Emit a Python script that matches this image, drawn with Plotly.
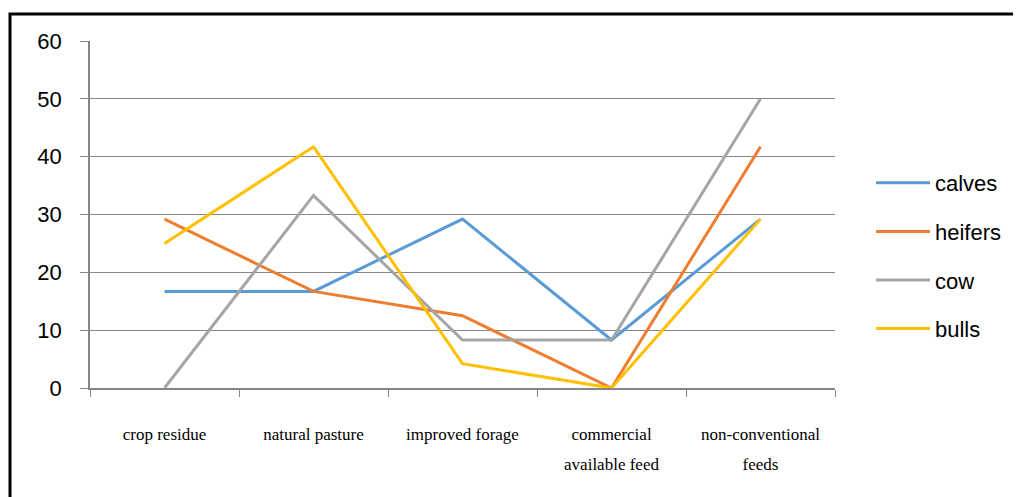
import plotly.graph_objects as go

categories = ["crop residue", "natural pasture", "improved forage",
              "commercial<br>available feed", "non-conventional<br>feeds"]
calves = [16.7, 16.7, 29.2, 8.3, 29.2]
heifers = [29.2, 16.7, 12.5, 0.0, 41.7]
cow = [0.0, 33.3, 8.3, 8.3, 50.0]
bulls = [25.0, 41.7, 4.2, 0.0, 29.2]
y_ticks = [0, 10, 20, 30, 40, 50, 60]

series = [("calves", calves, "#5B9BD5"),
          ("heifers", heifers, "#ED7D31"),
          ("cow", cow, "#A5A5A5"),
          ("bulls", bulls, "#FFC000")]

first_lines = [c.split("<br>")[0] for c in categories]
second_lines = [c.split("<br>")[1] if "<br>" in c else "" for c in categories]

fig = go.Figure()
for name, vals, color in series:
    fig.add_trace(go.Scatter(x=categories, y=vals, mode="lines", name=name,
                             legendgroup=name,
                             line=dict(color=color, width=3)))
# helper (invisible) trace for the second line of category labels
fig.add_trace(go.Scatter(x=[0, len(categories) - 1], y=[None, None], xaxis="x2",
                         showlegend=False, hoverinfo="skip", mode="lines"))

OFF = 8  # page body margin
W, H = 1021, 497
L, R, T, B = 90 - OFF, 1021 - 835 + OFF, 41 - OFF, 497 - 388 + OFF
pw, ph = W - L - R, H - T - B

serif = dict(family="Liberation Serif", size=17, color="#000000")

fig.update_layout(
    width=W, height=H,
    margin=dict(l=L, r=R, t=T, b=B),
    paper_bgcolor="white", plot_bgcolor="white",
    showlegend=True,
    legend=dict(x=(871 - OFF - L) / pw, y=(388 - 256) / ph, xanchor="left", yanchor="middle",
                font=dict(family="Liberation Sans", size=22, color="#000000"),
                tracegroupgap=17, itemwidth=54, bgcolor="rgba(0,0,0,0)"),
    xaxis=dict(type="category", range=[-0.5, 4.5], tickson="boundaries",
               tickmode="array", tickvals=categories, ticktext=first_lines,
               ticks="outside", ticklen=7, tickcolor="#868686", tickwidth=1,
               showline=True, linecolor="#868686", linewidth=1.5,
               showgrid=False, ticklabelstandoff=30, tickfont=serif),
    xaxis2=dict(overlaying="x", anchor="y", side="bottom", range=[-0.5, 4.5],
                tickmode="array", tickvals=list(range(len(categories))), ticktext=second_lines,
                ticks="", showline=False, showgrid=False, zeroline=False,
                ticklabelstandoff=64, tickfont=serif),
    yaxis=dict(range=[0, 60], tickvals=y_ticks, ticks="outside", ticklen=8,
               tickcolor="#868686", showline=True, linecolor="#868686", linewidth=1.5,
               showgrid=True, gridcolor="#868686", gridwidth=1, zeroline=False,
               ticklabelstandoff=14,
               tickfont=dict(family="Liberation Sans", size=22, color="#000000")),
    shapes=[dict(type="rect", xref="paper", yref="paper",
                 x0=(10 - OFF - L) / pw, x1=(1040 - L) / pw,
                 y0=(388 - 520) / ph, y1=(388 - 14) / ph,
                 line=dict(color="#000000", width=3), layer="below")],
)

fig.write_html("out.html")
